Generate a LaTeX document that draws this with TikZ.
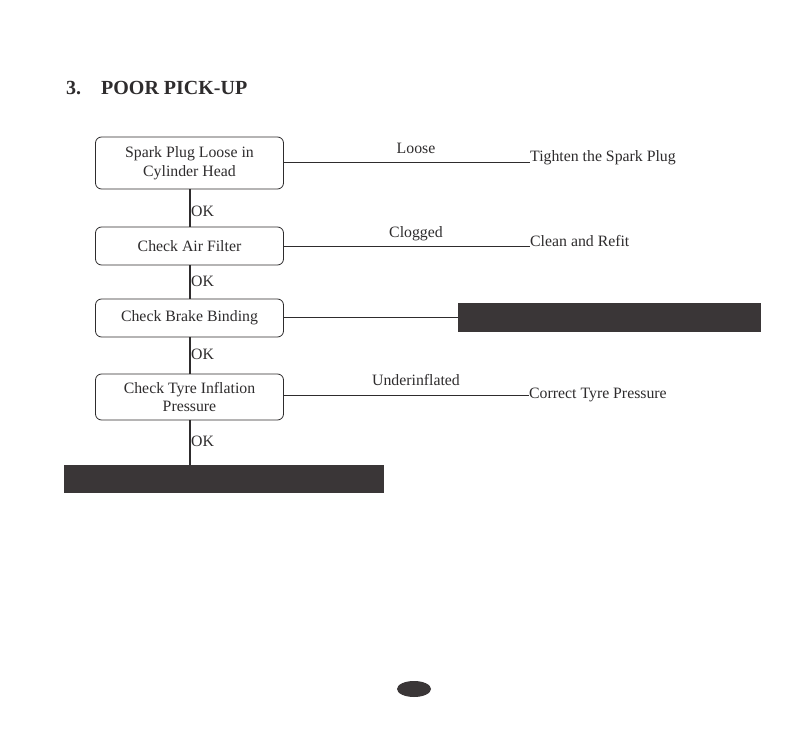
\documentclass[tikz,border=0pt]{standalone}
\usepackage{fontspec}
\setmainfont{Liberation Serif}
\definecolor{ink}{HTML}{2E2C2D}
\definecolor{barfill}{HTML}{3A3637}
\begin{document}
\begin{tikzpicture}[x=1pt,y=-1pt,
  stepbox/.style={draw=ink, line width=0.8pt, rounded corners=6pt, minimum width=188pt, align=center, font=\fontsize{15.8}{18.5}\selectfont, text=ink, inner sep=0pt},
  resbox/.style={fill=barfill, draw=none, inner sep=0pt},
  lbl/.style={font=\fontsize{15.8}{18.5}\selectfont, text=ink, inner sep=0pt},
  hline/.style={draw=ink, line width=0.8pt},
  vline/.style={draw=ink, line width=2pt}]
\useasboundingbox (0,0) rectangle (812,735);
\fill[white] (0,0) rectangle (812,735);
% title
\node[anchor=base west, inner sep=0pt, text=ink, font=\fontsize{20}{24}\selectfont\bfseries] (num) at (66,95) {3.};
\node[anchor=base west, inner sep=0pt, text=ink, font=\fontsize{20}{24}\selectfont\bfseries] (title) at (101,95) {POOR PICK-UP};
% boxes
\node[stepbox, minimum height=52pt] (b1) at (189.5,163) {Spark Plug Loose in\\Cylinder Head};
\node[stepbox, minimum height=38pt] (b2) at (189.5,246) {Check Air Filter};
\node[stepbox, minimum height=38pt] (b3) at (189.5,318) {Check Brake Binding};
\node[stepbox, minimum height=46pt] (b4) at (189.5,397) {Check Tyre Inflation\\Pressure};
% dark bars
\node[resbox, minimum width=303pt, minimum height=29pt] (r3) at (609.5,317.5) {};
\node[resbox, minimum width=320pt, minimum height=28pt] (end) at (224,479) {};
% result texts
\node[lbl, anchor=base west] (r1) at (530,162) {Tighten the Spark Plug};
\node[lbl, anchor=base west] (r2) at (530,246.5) {Clean and Refit};
\node[lbl, anchor=west] (r4) at (529,395) {Correct Tyre Pressure};
% condition labels
\node[lbl] (c1) at (416,148) {Loose};
\node[lbl] (c2) at (416,234) {Clogged};
\node[lbl] (c4) at (416,380) {Underinflated};
% horizontal connectors
\draw[hline] (b1.east |- r1.base west) -- (r1.base west);
\draw[hline] (b2.east |- r2.base west) -- (r2.base west);
\draw[hline] (b3.east |- r3.west) -- (r3.west);
\draw[hline] (b4.east |- r4.west) -- (r4.west);
% vertical connectors
\draw[vline] (b1.south) -- (b2.north);
\draw[vline] (b2.south) -- (b3.north);
\draw[vline] (b3.south) -- (b4.north);
\draw[vline] (b4.south) -- (b4.south |- end.north);
% OK labels
\node[lbl, anchor=west] (ok1) at (191,211) {OK};
\node[lbl, anchor=west] (ok2) at (191,281) {OK};
\node[lbl, anchor=west] (ok3) at (191,354) {OK};
\node[lbl, anchor=west] (ok4) at (191,441) {OK};
% page marker
\fill[barfill] (414,689) ellipse [x radius=17pt, y radius=8pt];
\end{tikzpicture}
\end{document}
